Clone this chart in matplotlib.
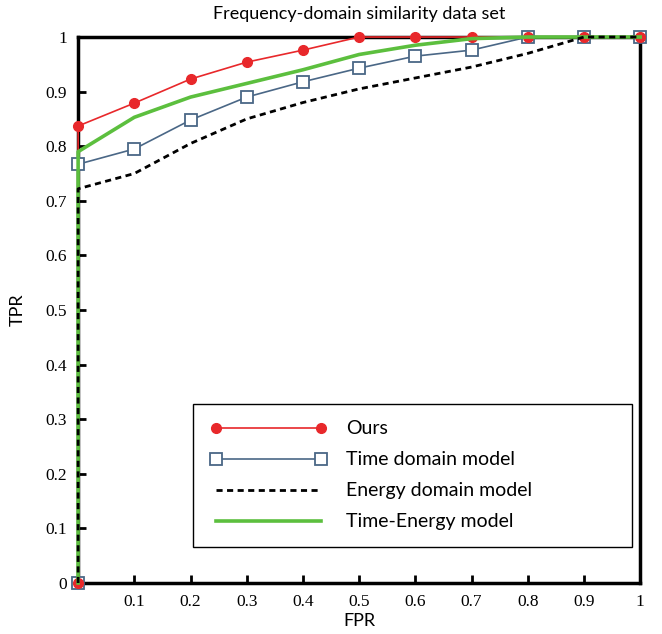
import matplotlib.pyplot as plt

fpr = [0, 0, 0.1, 0.2, 0.3, 0.4, 0.5, 0.6, 0.7, 0.8, 0.9, 1.0]
tpr_ours = [0, 0.837, 0.879, 0.923, 0.954, 0.976, 1.0, 1.0, 1.0, 1.0, 1.0, 1.0]
tpr_time = [0, 0.767, 0.795, 0.848, 0.890, 0.918, 0.943, 0.965, 0.976, 1.0, 1.0, 1.0]
tpr_energy = [0, 0.722, 0.75, 0.805, 0.85, 0.88, 0.905, 0.925, 0.945, 0.97, 1.0, 1.0]
tpr_time_energy = [0, 0.79, 0.853, 0.89, 0.915, 0.94, 0.968, 0.985, 0.997, 1.0, 1.0, 1.0]

xticks = [0.1, 0.2, 0.3, 0.4, 0.5, 0.6, 0.7, 0.8, 0.9, 1.0]
xticklabels = ["0.1", "0.2", "0.3", "0.4", "0.5", "0.6", "0.7", "0.8", "0.9", "1"]
yticks = [0, 0.1, 0.2, 0.3, 0.4, 0.5, 0.6, 0.7, 0.8, 0.9, 1.0]
yticklabels = ["0", "0.1", "0.2", "0.3", "0.4", "0.5", "0.6", "0.7", "0.8", "0.9", "1"]

fig = plt.figure(figsize=(6.62, 6.34), dpi=100)
ax = fig.add_axes([0.118, 0.0804, 0.849, 0.8612])

ax.plot(fpr, tpr_time, color="#4a6786", lw=1.2, marker="s", ms=8,
        mfc="white", mec="#4a6786", mew=1.3, label="Time domain model",
        clip_on=False, zorder=3)
ax.plot(fpr, tpr_ours, color="#e8282b", lw=1.2, marker="o", ms=7,
        mfc="#e8282b", mec="#e8282b", label="Ours", clip_on=False, zorder=4)
ax.plot(fpr, tpr_time_energy, color="#5cbf3e", lw=2.6,
        label="Time-Energy model", clip_on=False, zorder=5)
ax.plot(fpr, tpr_energy, color="black", lw=2, ls=(0, (2.2, 1.6)),
        label="Energy domain model", clip_on=False, zorder=6)

ax.set_xlim(0, 1)
ax.set_ylim(0, 1)
ax.set_xticks(xticks)
ax.set_xticklabels(xticklabels)
ax.set_yticks(yticks)
ax.set_yticklabels(yticklabels)
for lab in ax.get_xticklabels() + ax.get_yticklabels():
    lab.set_family("Liberation Serif")
    lab.set_fontsize(12.5)
ax.tick_params(direction="in", length=6, width=2, top=False, right=False, pad=8)
for s in ax.spines.values():
    s.set_linewidth(2.5)
    s.set_zorder(2)

ax.set_xlabel("FPR", family="Lato", fontsize=13, labelpad=2)
ax.set_ylabel("TPR", family="Lato", fontsize=13, labelpad=14)
ax.set_title("Frequency-domain similarity data set", family="Lato",
             fontsize=13, pad=13)

handles, labels = ax.get_legend_handles_labels()
order = [1, 0, 3, 2]
leg = ax.legend([handles[i] for i in order], [labels[i] for i in order],
                loc="lower left", bbox_to_anchor=(0.205, 0.066, 0.781, 0.265),
                mode="expand", borderaxespad=0, numpoints=2,
                handlelength=6.0, handletextpad=1.0,
                fancybox=False, edgecolor="black", framealpha=1,
                prop={"family": "Lato", "size": 14}, labelspacing=0.72,
                borderpad=0.85)
leg.get_frame().set_linewidth(1.0)

fig.savefig("out.png", dpi=100)
